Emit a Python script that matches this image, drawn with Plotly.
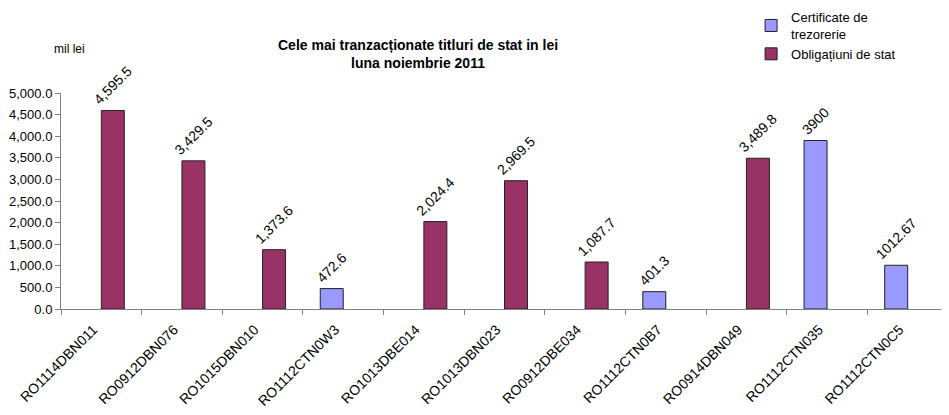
import plotly.graph_objects as go

categories = ["RO1114DBN011", "RO0912DBN076", "RO1015DBN010", "RO1112CTN0W3",
              "RO1013DBE014", "RO1013DBN023", "RO0912DBE034", "RO1112CTN0B7",
              "RO0914DBN049", "RO1112CTN035", "RO1112CTN0C5"]
certificate_values = [None, None, None, 472.6, None, None, None, 401.3, None, 3900, 1012.67]
certificate_labels = ["", "", "", "472.6", "", "", "", "401.3", "", "3900", "1012.67"]
obligatiuni_values = [4595.5, 3429.5, 1373.6, None, 2024.4, 2969.5, 1087.7, None, 3489.8, None, None]
obligatiuni_labels = ["4,595.5", "3,429.5", "1,373.6", "", "2,024.4", "2,969.5", "1,087.7", "", "3,489.8", "", ""]
y_ticks = [0, 500, 1000, 1500, 2000, 2500, 3000, 3500, 4000, 4500, 5000]

FONT = "Liberation Sans, Arial, sans-serif"

fig = go.Figure()
fig.add_trace(go.Bar(
    name="Certificate de<br>trezorerie", x=categories, y=certificate_values,
    text=certificate_labels, textposition="outside", textangle=-45,
    constraintext="none", cliponaxis=False,
    textfont=dict(family=FONT, size=14, color="black"),
    marker=dict(color="#9999FF", line=dict(color="#222222", width=1)),
))
fig.add_trace(go.Bar(
    name="Obligațiuni de stat", x=categories, y=obligatiuni_values,
    text=obligatiuni_labels, textposition="outside", textangle=-45,
    constraintext="none", cliponaxis=False,
    textfont=dict(family=FONT, size=14, color="black"),
    marker=dict(color="#993366", line=dict(color="#222222", width=1)),
))

fig.update_layout(
    width=941, height=407,
    margin=dict(l=53, r=1, t=85, b=106, autoexpand=False),
    paper_bgcolor="white", plot_bgcolor="white",
    barmode="group", bargap=0.43, bargroupgap=0,
    font=dict(family=FONT, size=12, color="black"),
    showlegend=True,
    legend=dict(x=0.778, y=1.421, xanchor="left", yanchor="top",
                font=dict(family=FONT, size=13, color="black"),
                bgcolor="rgba(0,0,0,0)", tracegroupgap=0, itemwidth=30),
    xaxis=dict(type="category", tickangle=-45, tickson="boundaries",
               ticks="outside", ticklen=5, tickcolor="#808080",
               ticklabelstandoff=6, ticklabelshift=-8,
               showline=True, linecolor="#808080", linewidth=1,
               showgrid=False, tickfont=dict(family=FONT, size=14, color="black")),
    yaxis=dict(range=[0, 5000], tickvals=y_ticks, tickformat=",.1f",
               ticks="outside", ticklen=5, tickcolor="#808080",
               showline=True, linecolor="#808080", linewidth=1,
               showgrid=False, zeroline=False,
               tickfont=dict(family=FONT, size=13, color="black")),
    annotations=[
        dict(text="<b>Cele mai tranzacționate titluri de stat in lei<br>luna noiembrie 2011</b>",
             xref="paper", yref="paper", x=0.4025, y=1.1806, xanchor="center", yanchor="middle",
             showarrow=False, font=dict(family=FONT, size=14, color="black")),
        dict(text="mil lei", xref="paper", yref="paper", x=0.0101, y=1.2037,
             xanchor="center", yanchor="middle", showarrow=False,
             font=dict(family=FONT, size=12, color="black")),
    ],
)

fig.write_html("out.html")
